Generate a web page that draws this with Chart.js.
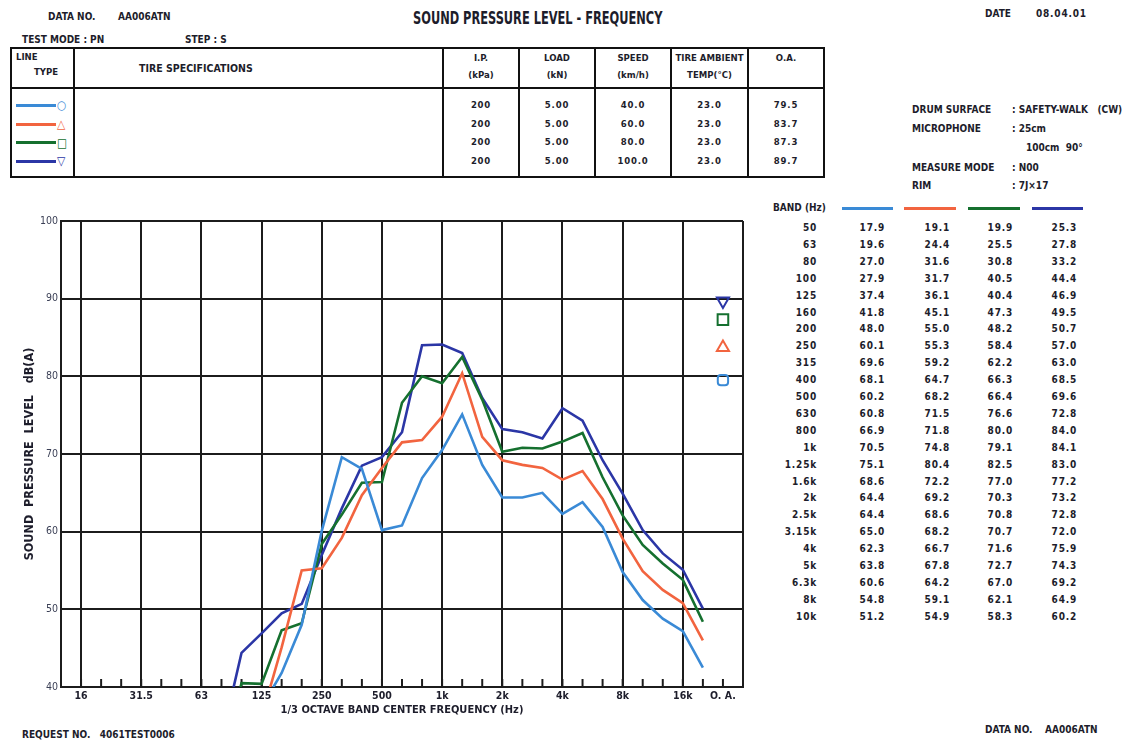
<!DOCTYPE html>
<html>
<head>
<meta charset="utf-8">
<title>Sound Pressure Level - Frequency</title>
<script src="https://cdn.jsdelivr.net/npm/chart.js@4.4.1/dist/chart.umd.min.js"></script>
<style>
  html, body { margin: 0; padding: 0; background: #fff; }
  body {
    position: relative; width: 1127px; height: 745px; overflow: hidden;
    font-family: "Liberation Sans Narrow", "DejaVu Sans Condensed", "Arial Narrow", sans-serif;
    font-weight: bold; color: #1d1d2b;
  }
  .t { position: absolute; white-space: nowrap; font-size: 10px; line-height: 10px; }
  .num { letter-spacing: 0.8px; }
  #title { font-size: 17px; line-height: 17px; transform: scaleX(0.745); transform-origin: 0 0; }
  #spec { position: absolute; left: 10px; top: 47px; border-collapse: collapse; table-layout: fixed; }
  #spec td { border: 2px solid #111; padding: 0; font-size: 9.5px; line-height: 17px; text-align: center; vertical-align: top; }
  #spec tr.head td { height: 36px; }
  #spec tr.body td { height: 80px; padding-top: 7px; line-height: 18.7px; }
  .leg { display: flex; align-items: center; height: 18.7px; padding-left: 4px; }
  .leg span.ln { display: inline-block; width: 40px; height: 3px; margin-right: 1px; }
  .leg span.sym { font-size: 12px; line-height: 12px; }
  #plot { position: absolute; left: 0; top: 200px; width: 760px; height: 520px; }
  .hdrline { position: absolute; height: 3px; top: 207px; }
</style>
</head>
<body>

<div class="t" style="left:48px;top:12px;">DATA NO.</div>
<div class="t" style="left:118px;top:12px;">AA006ATN</div>
<div class="t" id="title" style="left:413px;top:10px;">SOUND PRESSURE LEVEL - FREQUENCY</div>
<div class="t" style="left:985px;top:9px;">DATE</div>
<div class="t num" style="left:1036px;top:9px;">08.04.01</div>
<div class="t" style="left:22px;top:35px;">TEST MODE : PN</div>
<div class="t" style="left:185px;top:35px;">STEP : S</div>

<table id="spec">
  <colgroup>
    <col style="width:63px"><col style="width:369px"><col style="width:76px"><col style="width:76px">
    <col style="width:76px"><col style="width:77px"><col style="width:76px">
  </colgroup>
  <tr class="head">
    <td style="text-align:left;padding-left:4px;line-height:15px;">LINE<br><span style="padding-left:18px">TYPE</span></td>
    <td style="text-align:left;padding-left:64px;line-height:38px;font-size:10.5px;">TIRE SPECIFICATIONS</td>
    <td>I.P.<br>(kPa)</td>
    <td>LOAD<br>(kN)</td>
    <td>SPEED<br>(km/h)</td>
    <td>TIRE AMBIENT<br>TEMP(°C)</td>
    <td>O.A.</td>
  </tr>
  <tr class="body">
    <td id="legendCell" style="text-align:left;"></td>
    <td></td>
    <td id="colIp" class="num"></td>
    <td id="colLoad" class="num"></td>
    <td id="colSpeed" class="num"></td>
    <td id="colTemp" class="num"></td>
    <td id="colOa" class="num"></td>
  </tr>
</table>

<div class="t" style="left:912px;top:105px;">DRUM SURFACE</div>
<div class="t" style="left:1012px;top:105px;">: SAFETY-WALK&nbsp;&nbsp;&nbsp;(CW)</div>
<div class="t" style="left:912px;top:124px;">MICROPHONE</div>
<div class="t" style="left:1012px;top:124px;">: 25cm</div>
<div class="t" style="left:1026px;top:143px;">100cm&nbsp;&nbsp;90°</div>
<div class="t" style="left:912px;top:163px;">MEASURE MODE</div>
<div class="t" style="left:1012px;top:163px;">: N00</div>
<div class="t" style="left:912px;top:181px;">RIM</div>
<div class="t" style="left:1012px;top:181px;">: 7J×17</div>

<div class="t" style="left:773px;top:203px;">BAND (Hz)</div>
<div id="bandTable"></div>

<div id="plot"><canvas id="chart" width="760" height="520"></canvas></div>

<div class="t" style="left:22px;top:730px;">REQUEST NO.&nbsp;&nbsp;&nbsp;4061TEST0006</div>
<div class="t" style="left:985px;top:725px;">DATA NO.&nbsp;&nbsp;&nbsp;&nbsp;AA006ATN</div>

<script>
// 1/3-octave band positions along the frequency axis (last two slots: overall value, right margin)
const axisBands = ['12.5','16','20','25','31.5','40','50','63','80','100','125','160','200','250',
  '315','400','500','630','800','1k','1.25k','1.6k','2k','2.5k','3.15k','4k','5k','6.3k','8k',
  '10k','12.5k','16k','20k','O.A.','end'];
// bands that carry a printed label under the axis
const xTickLabels = ['16','31.5','63','125','250','500','1k','2k','4k','8k','16k','O.A.'];

// bands listed in the value table
const tableBands = ['50','63','80','100','125','160','200','250','315','400','500','630','800',
  '1k','1.25k','1.6k','2k','2.5k','3.15k','4k','5k','6.3k','8k','10k'];
// bands plotted for each run (table bands plus the three highest bands)
const seriesBands = tableBands.concat(['12.5k','16k','20k']);

// sound pressure level, dB(A), one run per speed
const spl40  = [17.9,19.6,27.0,27.9,37.4,41.8,48.0,60.1,69.6,68.1,60.2,60.8,66.9,70.5,75.1,68.6,64.4,64.4,65.0,62.3,63.8,60.6,54.8,51.2,48.8,47.2,42.5];
const spl60  = [19.1,24.4,31.6,31.7,36.1,45.1,55.0,55.3,59.2,64.7,68.2,71.5,71.8,74.8,80.4,72.2,69.2,68.6,68.2,66.7,67.8,64.2,59.1,54.9,52.5,50.8,46.0];
const spl80  = [19.9,25.5,30.8,40.5,40.4,47.3,48.2,58.4,62.2,66.3,66.4,76.6,80.0,79.1,82.5,77.0,70.3,70.8,70.7,71.6,72.7,67.0,62.1,58.3,55.9,53.8,48.4];
const spl100 = [25.3,27.8,33.2,44.4,46.9,49.5,50.7,57.0,63.0,68.5,69.6,72.8,84.0,84.1,83.0,77.2,73.2,72.8,72.0,75.9,74.3,69.2,64.9,60.2,57.2,55.1,50.1];

// test conditions per run
const ipKpa   = [200, 200, 200, 200];
const loadKn  = [5.00, 5.00, 5.00, 5.00];
const speedKmh = [40.0, 60.0, 80.0, 100.0];
const tempC   = [23.0, 23.0, 23.0, 23.0];
const oaDb    = [79.5, 83.7, 87.3, 89.7];

// y-axis range and step
const yTicks = [40, 50, 60, 70, 80, 90, 100];

const runs = [
  { values: spl40,  color: '#3a8ad6', symbol: '○', point: 'rectRounded', rot: 0 },
  { values: spl60,  color: '#f2643f', symbol: '△', point: 'triangle',    rot: 0 },
  { values: spl80,  color: '#15702f', symbol: '□', point: 'rect',        rot: 0 },
  { values: spl100, color: '#2b36a6', symbol: '▽', point: 'triangle',    rot: 180 }
];

// ----- condition table -----
const legendCell = document.getElementById('legendCell');
runs.forEach(r => {
  const d = document.createElement('div');
  d.className = 'leg';
  d.innerHTML = '<span class="ln" style="background:' + r.color + '"></span><span class="sym" style="color:' + r.color + '">' + r.symbol + '</span>';
  legendCell.appendChild(d);
});
function fillCol(id, arr, digits) {
  document.getElementById(id).innerHTML = arr.map(v => digits == null ? String(v) : v.toFixed(digits)).join('<br>');
}
fillCol('colIp', ipKpa, null);
fillCol('colLoad', loadKn, 2);
fillCol('colSpeed', speedKmh, 1);
fillCol('colTemp', tempC, 1);
fillCol('colOa', oaDb, 1);

// ----- band value table -----
const bandTable = document.getElementById('bandTable');
const colRights = [817, 885, 950, 1013, 1077];
const headLines = [[842, 51], [904, 52], [968, 52], [1032, 51]];
headLines.forEach((h, i) => {
  const l = document.createElement('div');
  l.className = 'hdrline';
  l.style.left = h[0] + 'px'; l.style.width = h[1] + 'px'; l.style.background = runs[i].color;
  bandTable.appendChild(l);
});
tableBands.forEach((b, row) => {
  const y = 223 + row * 16.9;
  const cells = [b].concat(runs.map(r => r.values[row].toFixed(1)));
  cells.forEach((txt, c) => {
    const s = document.createElement('div');
    s.className = 't num';
    s.style.right = (1127 - colRights[c]) + 'px';
    s.style.top = y.toFixed(1) + 'px';
    s.textContent = txt;
    bandTable.appendChild(s);
  });
});

// ----- chart -----
const GRID = '#1c1c1c';
const FONT = '"Liberation Sans Narrow", "DejaVu Sans Condensed", sans-serif';
const xIndex = b => axisBands.indexOf(b);
const lastIndex = axisBands.length - 1;
const isMajor = i => i === 0 || i === lastIndex || (xTickLabels.indexOf(axisBands[i]) >= 0 && axisBands[i] !== 'O.A.');

const datasets = runs.map((r, k) => ({
  type: 'line',
  label: speedKmh[k].toFixed(1) + ' km/h',
  data: seriesBands.map((b, i) => ({ x: xIndex(b), y: r.values[i] })),
  borderColor: r.color,
  borderWidth: 2.6,
  pointRadius: 0,
  tension: 0,
  fill: false
})).concat(runs.map((r, k) => ({
  type: 'scatter',
  label: 'O.A. ' + speedKmh[k].toFixed(1) + ' km/h',
  data: [{ x: xIndex('O.A.'), y: oaDb[k] }],
  borderColor: r.color,
  backgroundColor: 'rgba(255,255,255,0)',
  borderWidth: 2,
  pointStyle: r.point,
  pointRotation: r.rot,
  pointRadius: r.point === 'rect' ? 7.5 : (r.point === 'rectRounded' ? 6 : 7),
  clip: false
})));

// short tick marks rising from the bottom edge at every 1/3-octave band
const innerTicks = {
  id: 'innerTicks',
  beforeDatasetsDraw(chart) {
    const { ctx, scales: { x, y } } = chart;
    const yb = y.getPixelForValue(y.min);
    ctx.save();
    ctx.strokeStyle = GRID;
    ctx.lineWidth = 2;
    for (let i = 1; i < lastIndex; i++) {
      const px = x.getPixelForValue(i);
      ctx.beginPath();
      ctx.moveTo(px, yb);
      ctx.lineTo(px, yb - 8);
      ctx.stroke();
    }
    ctx.restore();
  }
};

new Chart(document.getElementById('chart'), {
  data: { datasets },
  plugins: [innerTicks],
  options: {
    responsive: false,
    animation: false,
    devicePixelRatio: 1,
    layout: { padding: { left: 0, top: 21, right: 17, bottom: 0 } },
    plugins: { legend: { display: false }, tooltip: { enabled: false } },
    scales: {
      x: {
        type: 'linear',
        min: 0,
        max: lastIndex,
        afterBuildTicks: s => { s.ticks = axisBands.map((b, i) => ({ value: i })); },
        afterFit: s => { s.height = 33; },
        ticks: {
          autoSkip: false,
          maxRotation: 0,
          padding: 3,
          color: '#1d1d2b',
          font: { family: FONT, size: 10.5, weight: 'bold' },
          callback: v => (xTickLabels.indexOf(axisBands[v]) >= 0 ? axisBands[v].replace('O.A.', 'O. A.') : '')
        },
        grid: {
          drawTicks: false,
          lineWidth: 2,
          color: c => (isMajor(c.index) ? GRID : 'rgba(0,0,0,0)')
        },
        border: { display: true, color: GRID, width: 2 },
        title: {
          display: true,
          text: '1/3 OCTAVE BAND CENTER FREQUENCY (Hz)',
          color: '#1d1d2b',
          padding: { top: 0, bottom: 3 },
          font: { family: FONT, size: 11, weight: 'bold' }
        }
      },
      y: {
        type: 'linear',
        min: yTicks[0],
        max: yTicks[yTicks.length - 1],
        afterBuildTicks: s => { s.ticks = yTicks.map(v => ({ value: v })); },
        afterFit: s => { s.width = 61; },
        ticks: {
          padding: 3,
          color: '#3a3f55',
          font: { family: FONT, size: 10.5 }
        },
        grid: { drawTicks: false, lineWidth: 2, color: GRID },
        border: { display: true, color: GRID, width: 2 },
        title: {
          display: true,
          text: 'SOUND  PRESSURE  LEVEL   dB(A)',
          color: '#1d1d2b',
          padding: { top: 22, bottom: 0 },
          font: { family: FONT, size: 12.5, weight: 'bold' }
        }
      }
    }
  }
});
</script>
</body>
</html>
